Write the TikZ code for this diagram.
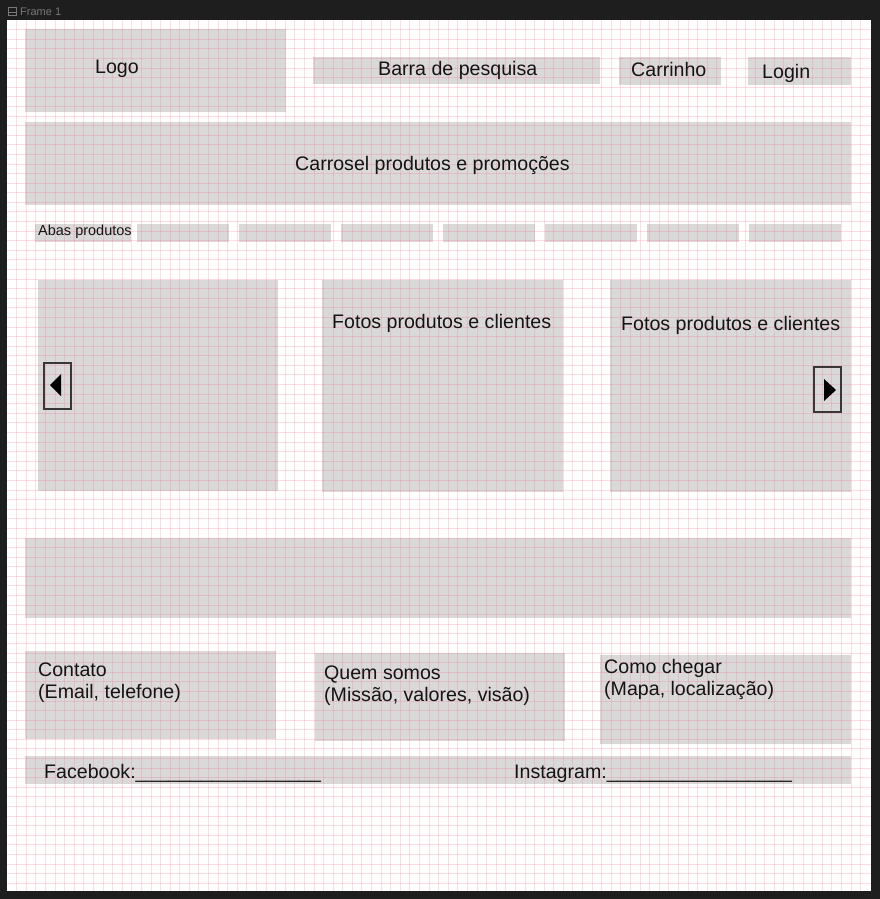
\documentclass[tikz,border=0pt]{standalone}
\usepackage{fontspec}
\setmainfont{Liberation Sans}
\definecolor{bgdark}{RGB}{30,30,30}
\definecolor{boxgray}{RGB}{217,217,217}
\definecolor{gridpink}{RGB}{255,90,120}
\definecolor{ink}{RGB}{20,20,20}
\definecolor{titlegray}{RGB}{120,120,120}
\tikzset{
  box/.style={fill=boxgray,draw=none},
  lbl/.style={font=\fontsize{19.6}{22}\selectfont,text=ink,inner sep=0pt,anchor=base west},
  smalllbl/.style={font=\fontsize{14.5}{16}\selectfont,text=ink,inner sep=0pt,anchor=base west},
  navbtn/.style={draw=ink!85,line width=1.1pt,fill=none},
  gridline/.style={draw=gridpink,opacity=0.21,line width=0.7pt}
}
\newcommand{\uline}{\_\_\_\_\_\_\_\_\_\_\_\_\_\_\_\_\_}
\begin{document}
\begin{tikzpicture}[x=1pt,y=-1pt]
\useasboundingbox (0,0) rectangle (880,899);
\fill[bgdark] (0,0) rectangle (880,899);
% frame title
\draw[titlegray,line width=0.8pt] (8.5,7.5) rectangle (16.5,15.5);
\draw[titlegray,line width=0.8pt] (8.5,12.5) -- (16.5,12.5);
\node[font=\fontsize{11}{12}\selectfont,text=titlegray,inner sep=0pt,anchor=base west] (title) at (20,15.5) {Frame 1};
% canvas
\fill[white] (7,20) rectangle (871,891);
% boxes
\path[box] (25,29) rectangle (286,112);
\path[box] (313,57) rectangle (600,84);
\path[box] (619,57) rectangle (721,85);
\path[box] (748,57) rectangle (851,85);
\path[box] (25,122) rectangle (851,205);
\path[box] (35,224) rectangle (131,242);
\foreach \k in {0,...,6} {
  \path[box] ({137+102*\k},224) rectangle ({229+102*\k},242);
}
\path[box] (38,280) rectangle (278,491);
\path[box] (322,280) rectangle (563,492);
\path[box] (610,280) rectangle (851,492);
\path[box] (25,538) rectangle (851,618);
\path[box] (25,651) rectangle (276,739);
\path[box] (315,653) rectangle (565,741);
\path[box] (600,655) rectangle (851,744);
\path[box] (25,756) rectangle (851,784);
% grid
\begin{scope}
\clip (7,20) rectangle (871,891);
\foreach \i in {1,...,89} {
  \draw[gridline] ({7+9.59*\i},20) -- ({7+9.59*\i},891);
}
\foreach \i in {1,...,90} {
  \draw[gridline] (7,{20+9.59*\i}) -- (871,{20+9.59*\i});
}
\end{scope}
% nav buttons
\node[navbtn,minimum width=27pt,minimum height=46pt,inner sep=0pt] (prev) at (57.5,386) {};
\fill[black] (50,385) -- (61,374) -- (61,396) -- cycle;
\node[navbtn,minimum width=27pt,minimum height=45pt,inner sep=0pt] (next) at (827.5,389.5) {};
\fill[black] (836,390) -- (824,379) -- (824,401) -- cycle;
% labels
\node[lbl] (logo) at (95,74) {Logo};
\node[lbl] (busca) at (378,75) {Barra de pesquisa};
\node[lbl] (carrinho) at (631,76) {Carrinho};
\node[lbl] (login) at (762,78) {Login};
\node[lbl] (carrosel) at (295,170) {Carrosel produtos e promoções};
\node[smalllbl] (abas) at (38,235) {Abas produtos};
\node[lbl] (fotos1) at (332,328) {Fotos produtos e clientes};
\node[lbl] (fotos2) at (621,330) {Fotos produtos e clientes};
\node[lbl,align=left,anchor=north west] (contato) at (38,663) {Contato\\(Email, telefone)};
\node[lbl,align=left,anchor=north west] (quem) at (324,666) {Quem somos\\(Missão, valores, visão)};
\node[lbl,align=left,anchor=north west] (como) at (604,659) {Como chegar\\(Mapa, localização)};
\node[lbl] (facebook) at (44,778) {Facebook:\uline};
\node[lbl] (instagram) at (514,778) {Instagram:\uline};
\end{tikzpicture}
\end{document}
